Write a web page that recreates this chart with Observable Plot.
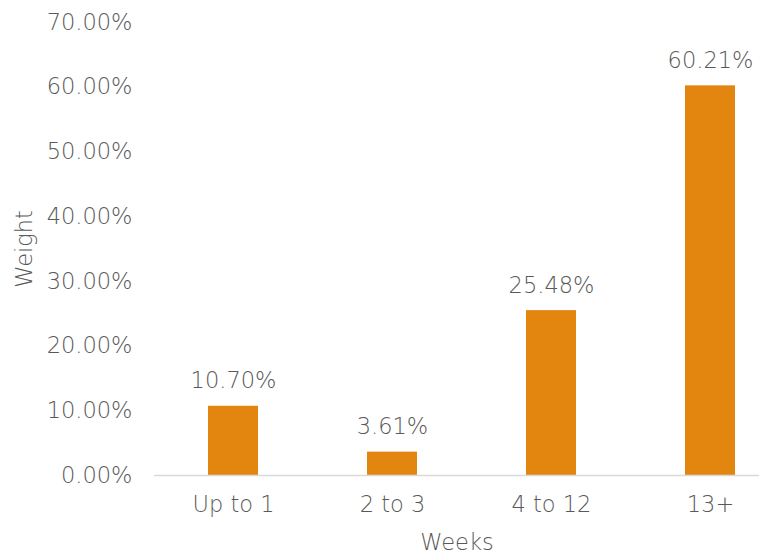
<!DOCTYPE html>
<html><head><meta charset="utf-8">
<script src="https://cdn.jsdelivr.net/npm/d3@7"></script>
<script src="https://cdn.jsdelivr.net/npm/@observablehq/plot@0.6"></script>
<style>
body{margin:0;background:#fff;}
svg{font-family:"DejaVu Sans",sans-serif;font-weight:200;}
</style></head>
<body><div id="chart"></div>
<script>
const categories = ["Up to 1", "2 to 3", "4 to 12", "13+"];
const weights = [0.1070, 0.0361, 0.2548, 0.6021];
const yTicks = [0, 0.1, 0.2, 0.3, 0.4, 0.5, 0.6, 0.7];
const data = categories.map((c, i) => ({week: c, weight: weights[i]}));
const fmt = d3.format(".2%");
const textColor = "#595959";
const chart = Plot.plot({
  width: 759, height: 557,
  marginLeft: 154, marginRight: 0, marginTop: 22, marginBottom: 82,
  style: {fontSize: "22.5px", color: textColor, background: "#fff"},
  x: {domain: categories, range: [153.5, 789.5], paddingInner: 0.686, paddingOuter: 0.343},
  y: {domain: [0, 0.7], range: [475, 22]},
  marks: [
    Plot.axisY({ticks: yTicks, tickFormat: fmt, tickSize: 0, tickPadding: 22, label: null, fill: textColor}),
    Plot.axisX({tickSize: 0, tickPadding: 21, label: null, fill: textColor}),
    Plot.barY(data, {x: "week", y: "weight", fill: "#E3860F"}),
    Plot.ruleY([0], {stroke: "#d9d9d9", strokeWidth: 1.5}),
    Plot.text(data, {x: "week", y: "weight", text: d => fmt(d.weight), dy: -25, fill: textColor}),
    Plot.text(["Weeks"], {frameAnchor: "bottom", dy: 74, fill: textColor}),
    Plot.text(["Weight"], {frameAnchor: "left", textAnchor: "middle", dx: -130, rotate: -90, fill: textColor})
  ]
});
document.getElementById("chart").append(chart);
</script></body></html>
